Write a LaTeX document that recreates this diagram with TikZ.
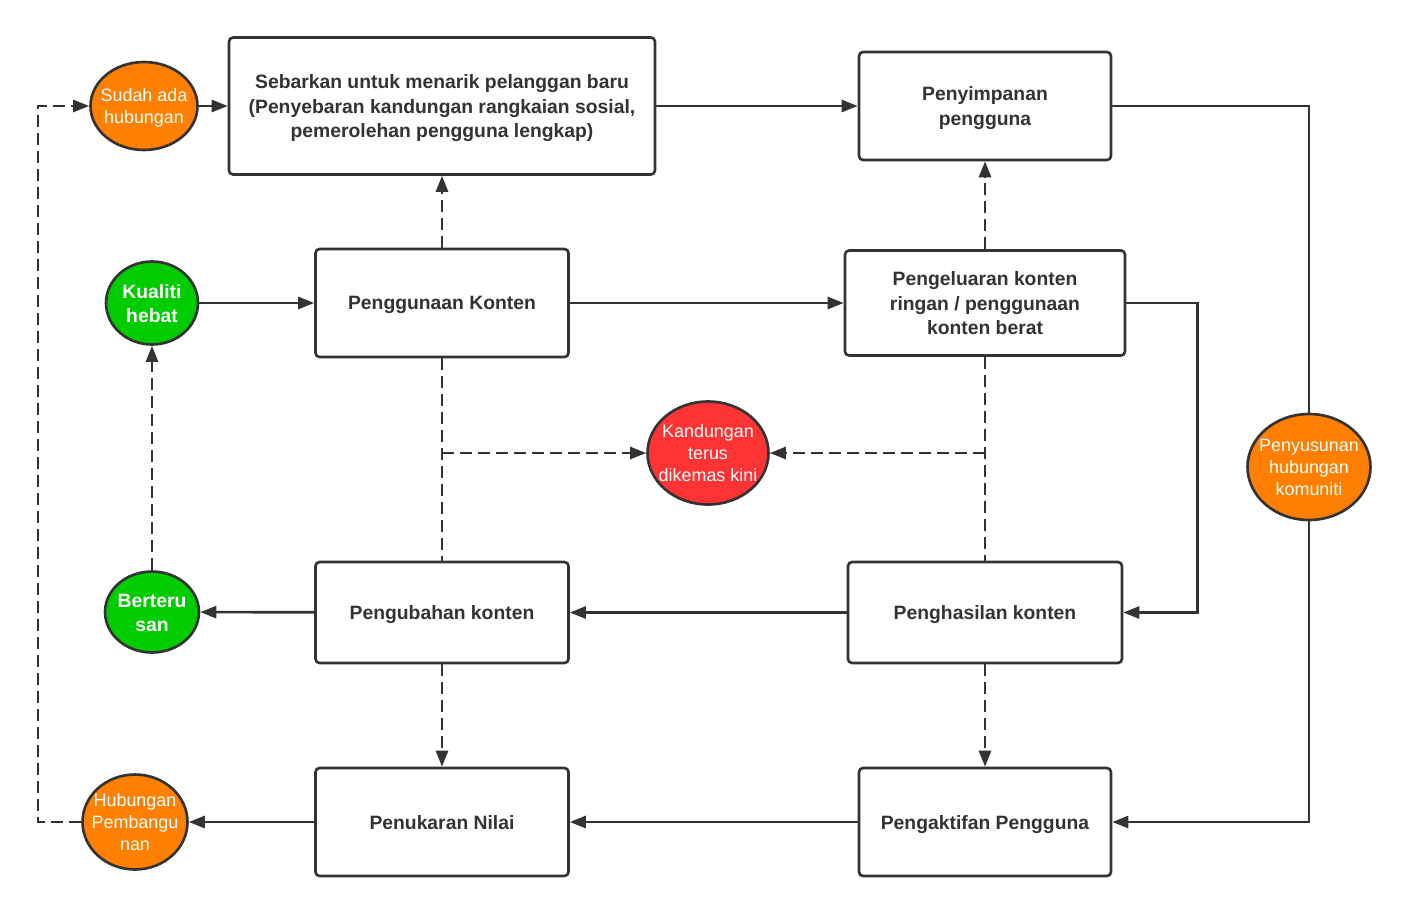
\documentclass[tikz,border=0pt]{standalone}
\usepackage{fontspec}
\setmainfont{Liberation Sans}
\usetikzlibrary{arrows.meta,shapes.geometric}
\definecolor{inkgray}{HTML}{333333}
\definecolor{hubungorange}{HTML}{FF8000}
\definecolor{hebatgreen}{HTML}{00CC00}
\definecolor{kiniRed}{HTML}{FF3333}
% teks elips tanpa saiz, supaya saiz elips ikut minimum width/height
\newcommand{\ovaltext}[1]{\raisebox{-0.38em}[0pt][0pt]{\makebox[0pt]{\begin{tabular}{@{}c@{}}#1\end{tabular}}}}
\tikzset{
  box/.style={draw=inkgray, line width=1.5pt, rounded corners=0.08cm, fill=white,
    align=center, text=inkgray, inner sep=0pt, text depth=0pt,
    font=\fontsize{11}{14.2}\selectfont\bfseries},
  oval/.style={ellipse, draw=inkgray, line width=1.5pt, text=white,
    inner sep=0pt, font=\fontsize{10.2}{12.6}\selectfont},
  boldoval/.style={oval, font=\fontsize{11}{13.6}\selectfont\bfseries},
  dashline/.style={dash pattern=on 0.24cm off 0.12cm}
}
\begin{document}
\begin{tikzpicture}[x=0.02cm, y=-0.02cm, >={Triangle[length=0.32cm,width=0.24cm]},
    line width=1.5pt, draw=inkgray]
    \useasboundingbox (0,0) rectangle (1410,913);
    % kotak utama
    \node[box, minimum width=8.52cm, minimum height=2.74cm] (sebar) at (442,106)
        {Sebarkan untuk menarik pelanggan baru\\(Penyebaran kandungan rangkaian sosial,\\pemerolehan pengguna lengkap)};
    \node[box, minimum width=5.04cm, minimum height=2.16cm] (simpan) at (985,106) {Penyimpanan\\pengguna};
    \node[box, minimum width=5.06cm, minimum height=2.16cm] (guna) at (442,303) {Penggunaan Konten};
    \node[box, minimum width=5.6cm, minimum height=2.1cm] (keluar) at (985,303)
        {Pengeluaran konten\\ringan / penggunaan\\konten berat};
    \node[box, minimum width=5.06cm, minimum height=2.02cm] (ubah) at (442,612.5) {Pengubahan konten};
    \node[box, minimum width=5.48cm, minimum height=2.02cm] (hasil) at (985,612.5) {Penghasilan konten};
    \node[box, minimum width=5.06cm, minimum height=2.16cm] (tukar) at (442,822) {Penukaran Nilai};
    \node[box, minimum width=5.04cm, minimum height=2.16cm] (aktif) at (985,822) {Pengaktifan Pengguna};
    % elips
    \node[oval, fill=hubungorange, minimum width=2.14cm, minimum height=1.76cm] (sudah) at (144,106) {\ovaltext{Sudah ada\\hubungan}};
    \node[boldoval, fill=hebatgreen, minimum width=1.84cm, minimum height=1.66cm] (kualiti) at (152,303) {\ovaltext{Kualiti\\hebat}};
    \node[boldoval, fill=hebatgreen, minimum width=1.88cm, minimum height=1.62cm] (terus) at (152,612) {\ovaltext{Berteru\\san}};
    \node[oval, fill=hubungorange, minimum width=2.1cm, minimum height=1.9cm] (bangun) at (135,822) {\ovaltext{Hubungan\\Pembangu\\nan}};
    \node[oval, fill=kiniRed, minimum width=2.42cm, minimum height=2.06cm] (kini) at (708,453) {\ovaltext{Kandungan\\terus\\dikemas kini}};
    \node[oval, fill=hubungorange, minimum width=2.46cm, minimum height=2.12cm] (komuniti) at (1309,467) {\ovaltext{Penyusunan\\hubungan\\komuniti}};
    \coordinate (jkiri) at (442,453);
    \coordinate (jkanan) at (985,453);
    \coordinate (balik) at (38,822);
    % penyambung
    \draw[->] (sudah) -- (sebar);
    \draw[->] (sebar) -- (simpan);
    \draw (simpan.east) -| (komuniti.north);
    \draw[->] (komuniti.south) |- (aktif.east);
    \draw[->, dashline] (guna) -- (sebar);
    \draw[->, dashline] (keluar) -- (simpan);
    \draw[->] (kualiti) -- (guna);
    \draw[->] (guna) -- (keluar);
    \draw[->] (keluar.east) -- ++(71,0) |- (hasil.east);
    \draw[dashline] (guna) -- (ubah);
    \draw[dashline] (keluar) -- (hasil);
    \draw[->, dashline] (jkiri) -- (kini);
    \draw[->, dashline] (jkanan) -- (kini);
    \draw[->] (hasil) -- (ubah);
    \draw[->] (ubah) -- (terus);
    \draw[->, dashline] (terus) -- (kualiti);
    \draw[->, dashline] (ubah) -- (tukar);
    \draw[->, dashline] (hasil) -- (aktif);
    \draw[->] (aktif) -- (tukar);
    \draw[->] (tukar) -- (bangun);
    \draw[->, dashline] (bangun.west) -- (balik) |- (sudah.west);
\end{tikzpicture}
\end{document}
